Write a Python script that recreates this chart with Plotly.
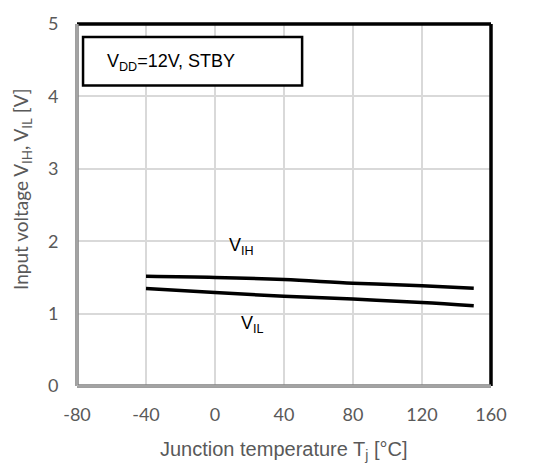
import plotly.graph_objects as go

temps = [-40, 0, 40, 80, 120, 150]
vih = [1.515, 1.50, 1.47, 1.42, 1.385, 1.35]
vil = [1.345, 1.29, 1.24, 1.20, 1.155, 1.11]

x_ticks = [-80, -40, 0, 40, 80, 120, 160]
x_labels = ["-80", "-40", "0", "40", "80", "120", "160"]
y_ticks = [0, 1, 2, 3, 4, 5]

fig = go.Figure()
fig.add_trace(go.Scatter(x=temps, y=vih, mode="lines", line=dict(color="black", width=3.5), name="VIH", line_shape="spline"))
fig.add_trace(go.Scatter(x=temps, y=vil, mode="lines", line=dict(color="black", width=3.5), name="VIL", line_shape="spline"))

tick_font = dict(family="Lato, Open Sans, sans-serif", size=18, color="#595959")
fig.update_xaxes(range=[-80, 160], tickvals=x_ticks, ticktext=x_labels, showgrid=True, gridcolor="#d9d9d9", gridwidth=1.5,
                 zeroline=False, tickfont=tick_font, ticks="outside", ticklen=12, tickcolor="rgba(0,0,0,0)")
fig.update_yaxes(range=[0, 5], tickvals=y_ticks, showgrid=True, gridcolor="#d9d9d9", gridwidth=1.5,
                 zeroline=False, tickfont=tick_font, ticks="outside", ticklen=14, tickcolor="rgba(0,0,0,0)")

shapes = [
    dict(type="line", xref="paper", yref="paper", x0=0, x1=1, y0=1, y1=1, line=dict(color="black", width=3.5)),
    dict(type="line", xref="paper", yref="paper", x0=1, x1=1, y0=0, y1=1, line=dict(color="black", width=3.5)),
    dict(type="line", xref="paper", yref="paper", x0=0, x1=0, y0=0, y1=1, line=dict(color="#7f7f7f", width=3.5)),
    dict(type="line", xref="paper", yref="paper", x0=0, x1=1, y0=0, y1=0, line=dict(color="#7f7f7f", width=3.5)),
    dict(type="line", xref="paper", yref="paper", x0=0, x1=0, y0=0, y1=1, line=dict(color="#c8c8c8", width=1)),
    dict(type="line", xref="paper", yref="paper", x0=0, x1=1, y0=0, y1=0, line=dict(color="#c8c8c8", width=1)),
    dict(type="rect", xref="x", yref="y", x0=-76.5, x1=50.5, y0=4.15, y1=4.82, line=dict(color="black", width=2.5), fillcolor="white"),
]

annotations = [
    dict(x=-64, y=4.47, xref="x", yref="y", text="V<sub>DD</sub>=12V, STBY", showarrow=False, xanchor="left",
         font=dict(family="Liberation Sans, Arial", size=18, color="black")),
    dict(x=7, y=1.93, xref="x", yref="y", text="V<sub>IH</sub>", showarrow=False, xanchor="left",
         font=dict(family="Liberation Sans, Arial", size=18, color="black")),
    dict(x=14, y=0.85, xref="x", yref="y", text="V<sub>IL</sub>", showarrow=False, xanchor="left",
         font=dict(family="Liberation Sans, Arial", size=18, color="black")),
    dict(x=0.5, y=-0.178, xref="paper", yref="paper", text="Junction temperature T<sub>j</sub> [°C]", showarrow=False,
         xanchor="center", yanchor="middle", font=dict(family="Liberation Sans, Arial", size=20, color="#595959")),
    dict(x=-0.133, y=0.544, xref="paper", yref="paper", text="Input voltage V<sub>IH</sub>, V<sub>IL</sub> [V]", showarrow=False,
         xanchor="center", yanchor="middle", textangle=-90, font=dict(family="Lato, Open Sans, sans-serif", size=19, color="#595959")),
]

fig.update_layout(width=539, height=472, margin=dict(l=77, r=48, t=22, b=86),
                  plot_bgcolor="white", paper_bgcolor="white", showlegend=False,
                  shapes=shapes, annotations=annotations)
fig.write_html("out.html")
